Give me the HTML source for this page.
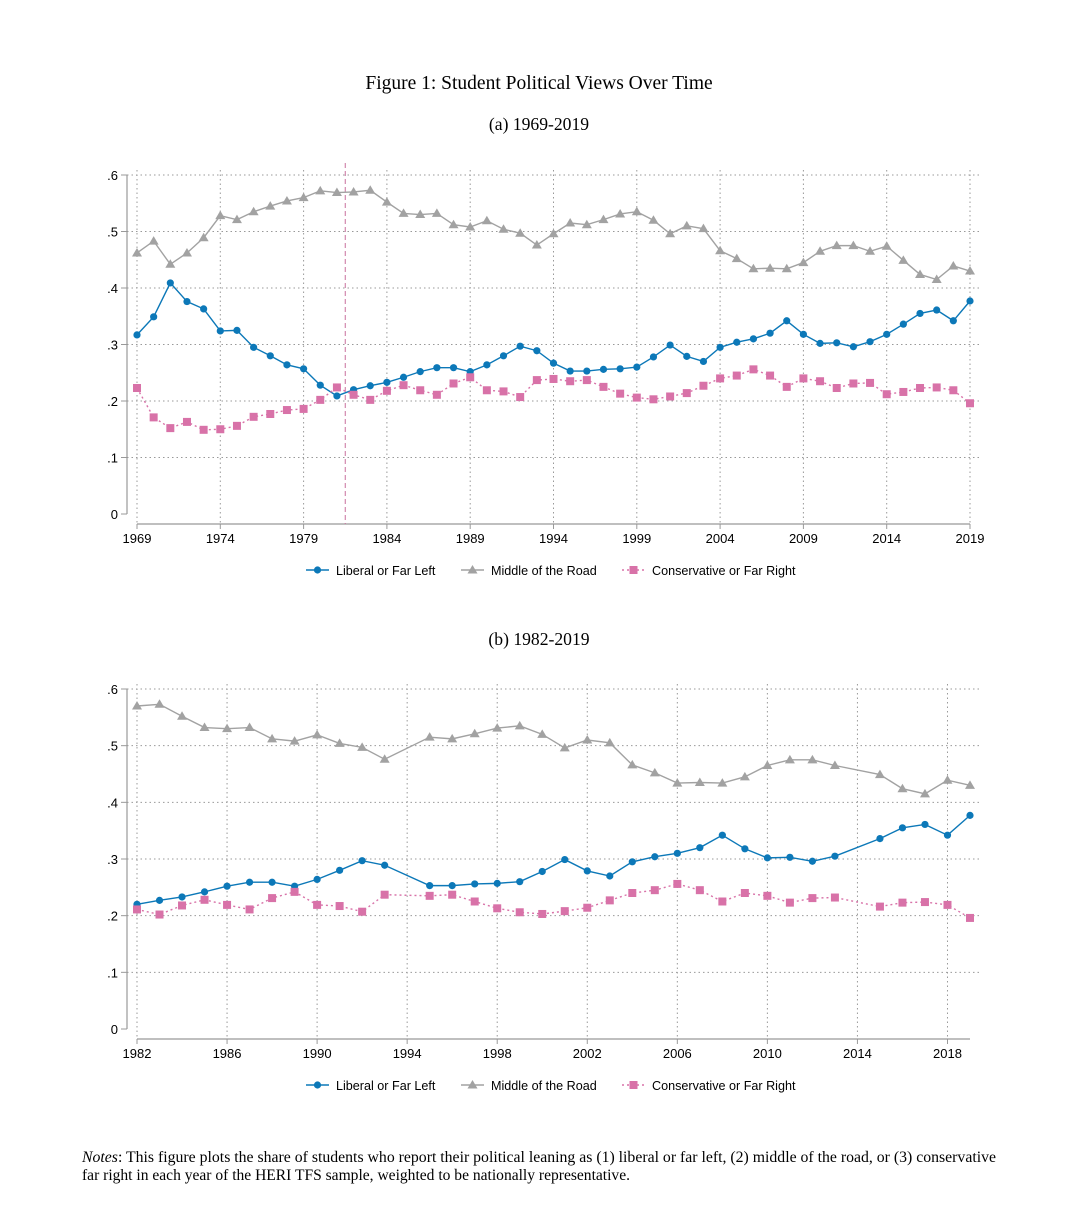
<!DOCTYPE html>
<html><head><meta charset="utf-8"><style>
body{margin:0;background:#fff;}
svg{display:block;}
</style></head><body>
<svg id="fig" width="1070" height="1212" xmlns="http://www.w3.org/2000/svg">
<text x="539" y="89" text-anchor="middle" font-family="Liberation Serif, serif" font-size="19.5">Figure 1: Student Political Views Over Time</text>
<text x="539" y="130" text-anchor="middle" font-family="Liberation Serif, serif" font-size="17.6">(a) 1969-2019</text>
<text x="539" y="645" text-anchor="middle" font-family="Liberation Serif, serif" font-size="17.6">(b) 1982-2019</text>
<g id="pa"></g>
<g id="pb"></g>
<text x="82" y="1162" font-family="Liberation Serif, serif" font-size="15.5" textLength="914" lengthAdjust="spacingAndGlyphs"><tspan font-style="italic">Notes</tspan>: This figure plots the share of students who report their political leaning as (1) liberal or far left, (2) middle of the road, or (3) conservative</text>
<text x="82" y="1180" font-family="Liberation Serif, serif" font-size="15.5" textLength="548" lengthAdjust="spacingAndGlyphs">far right in each year of the HERI TFS sample, weighted to be nationally representative.</text>
</svg>
<script>
const years = [];
for (let y = 1969; y <= 2019; y++) years.push(y);
const liberal = [.317,.349,.409,.376,.363,.324,.325,.295,.280,.264,.257,.228,.209,.220,.227,.233,.242,.252,.259,.259,.252,.264,.280,.297,.289,.267,.253,.253,.256,.257,.260,.278,.299,.279,.270,.295,.304,.310,.320,.342,.318,.302,.303,.296,.305,.318,.336,.355,.361,.342,.377];
const middle = [.462,.483,.442,.462,.489,.528,.521,.535,.545,.554,.560,.572,.569,.570,.573,.552,.532,.530,.532,.512,.508,.519,.504,.497,.476,.496,.515,.512,.521,.531,.535,.520,.496,.510,.505,.466,.452,.434,.435,.434,.445,.465,.475,.475,.465,.474,.449,.424,.415,.439,.430];
const conservative = [.223,.171,.152,.163,.149,.150,.156,.172,.177,.184,.186,.202,.224,.211,.202,.218,.228,.219,.211,.231,.242,.219,.217,.207,.237,.239,.235,.237,.225,.213,.206,.203,.208,.214,.227,.240,.245,.256,.245,.225,.240,.235,.223,.231,.232,.212,.216,.223,.224,.219,.196];
const yTicks = [0,.1,.2,.3,.4,.5,.6];
const yTickLabels = ["0",".1",".2",".3",".4",".5",".6"];
const xTicksA = [1969,1974,1979,1984,1989,1994,1999,2004,2009,2014,2019];
const xTicksB = [1982,1986,1990,1994,1998,2002,2006,2010,2014,2018];
const missingB = [1994,2014];
const cutYear = 1981.5;

const NS = "http://www.w3.org/2000/svg";
function mk(parent, tag, attrs){const e=document.createElementNS(NS,tag);for(const k in attrs)e.setAttribute(k,attrs[k]);parent.appendChild(e);return e;}
const COL = {lib:"#0c78b8", mid:"#a2a2a2", con:"#d872a8"};

function drawPanel(g, x0, x1, top, bot, yr0, yr1, xticks, keepYear, showCut, legendY){
  const xs = v => 137 + (v-yr0)/(yr1-yr0)*(970-137);
  const ys = v => bot - v/0.6*(bot-top);
  yTicks.forEach((t,i)=>{
    if(t>0){const l=mk(g,"line",{x1:127,x2:980,y1:ys(t),y2:ys(t),stroke:"#999","stroke-width":1,"stroke-dasharray":"1.5,3"});
    
    }
    const tk=mk(g,"line",{x1:121,x2:127,y1:ys(t),y2:ys(t),stroke:"#999","stroke-width":1});
    
    
    const tx=mk(g,"text",{x:118,y:ys(t)+5,"text-anchor":"end","font-family":"Liberation Sans, sans-serif","font-size":13});
    tx.textContent=yTickLabels[i];
    
    
  });
  xticks.forEach(t=>{
    const l=mk(g,"line",{x1:xs(t),x2:xs(t),y1:top-5,y2:bot+10,stroke:"#999","stroke-width":1,"stroke-dasharray":"1.5,3"});
    
    
    const tk=mk(g,"line",{x1:xs(t),x2:xs(t),y1:bot+10,y2:bot+15,stroke:"#999","stroke-width":1});
    
    
    const tx=mk(g,"text",{x:xs(t),y:bot+29,"text-anchor":"middle","font-family":"Liberation Sans, sans-serif","font-size":13});
    tx.textContent=t;
    
    
  });
  const ya=mk(g,"line",{x1:127,x2:127,y1:top,y2:bot,stroke:"#999","stroke-width":1.2});
  
  
  const xa=mk(g,"line",{x1:137,x2:970,y1:bot+10,y2:bot+10,stroke:"#999","stroke-width":1.2});
  
  
  if(showCut){
    const c=mk(g,"line",{x1:xs(cutYear),x2:xs(cutYear),y1:top-12,y2:bot+10,stroke:"#c9709e","stroke-width":1,"stroke-dasharray":"5,3"});
    
    
  }
  const series=[["liberal",liberal,COL.lib,"none","circle"],["middle",middle,COL.mid,"none","tri"],["conservative",conservative,COL.con,"2,3","sq"]];
  series.forEach(([nm,vals,col,dash,mark])=>{
    const pts=[];
    years.forEach((yr,i)=>{if(yr>=yr0&&yr<=yr1&&keepYear(yr))pts.push([xs(yr),ys(vals[i])]);});
    const p=mk(g,"polyline",{points:pts.map(p=>p.join(",")).join(" "),fill:"none",stroke:col,"stroke-width":1.4,"stroke-dasharray":dash});
    
    
    pts.forEach(([x,y])=>{
      let m;
      if(mark=="circle")m=mk(g,"circle",{cx:x,cy:y,r:3.6,fill:col});
      else if(mark=="tri")m=mk(g,"polygon",{points:`${x},${y-5} ${x-5},${y+3.5} ${x+5},${y+3.5}`,fill:col});
      else m=mk(g,"rect",{x:x-4,y:y-4,width:8,height:8,fill:col});
      
      
    });
  });
  const lg=[["Liberal or Far Left",COL.lib,"none","circle",306],["Middle of the Road",COL.mid,"none","tri",461],["Conservative or Far Right",COL.con,"2,3","sq",622]];
  lg.forEach(([lab,col,dash,mark,lx])=>{
    const l=mk(g,"line",{x1:lx,x2:lx+23,y1:legendY,y2:legendY,stroke:col,"stroke-width":1.4,"stroke-dasharray":dash});
    
    
    const cx=lx+11.5;let m;
    if(mark=="circle")m=mk(g,"circle",{cx:cx,cy:legendY,r:3.6,fill:col});
    else if(mark=="tri")m=mk(g,"polygon",{points:`${cx},${legendY-5} ${cx-5},${legendY+3.5} ${cx+5},${legendY+3.5}`,fill:col});
    else m=mk(g,"rect",{x:cx-4,y:legendY-4,width:8,height:8,fill:col});
    
    
    const t=mk(g,"text",{x:lx+30,y:legendY+5,"font-family":"Liberation Sans, sans-serif","font-size":12.6});
    t.textContent=lab;
    
    
  });
}
drawPanel(document.getElementById("pa"),137,970,175,514,1969,2019,xTicksA,()=>true,true,570);
drawPanel(document.getElementById("pb"),137,970,689,1029,1982,2019,xTicksB,yr=>missingB.indexOf(yr)<0,false,1085);
</script>
</body></html>
